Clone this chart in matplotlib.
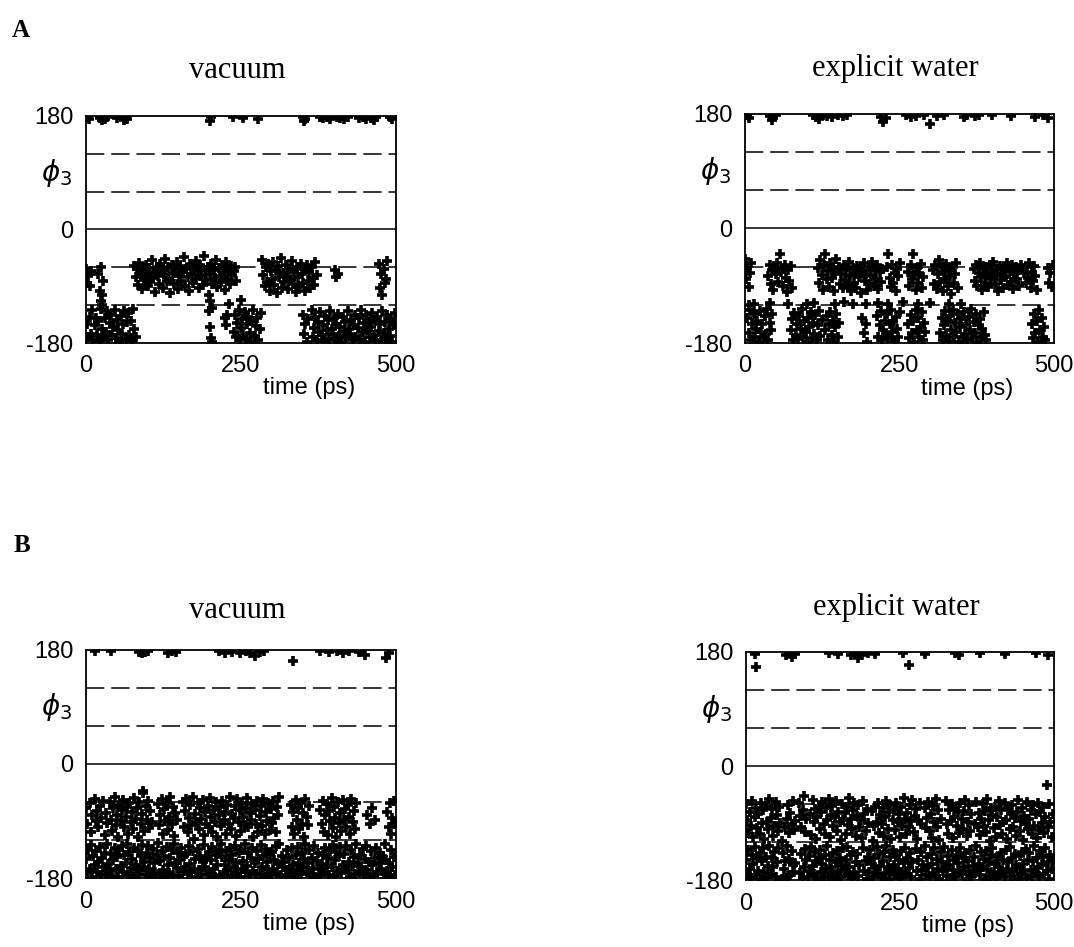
import numpy as np
import matplotlib
matplotlib.use('Agg')
import matplotlib.pyplot as plt

plt.rcParams['axes.unicode_minus'] = False

nan = float('nan')

# sampling times of the trajectories (ps), one frame every 2 ps
time = np.arange(0, 500, 2)

# ---------------- A, vacuum ----------------
a_vac_mid = [
    -62, -85, -74, -90, -66, nan, nan, nan, nan, nan,
    -70, -98, -60, -104, -82, nan, nan, nan, nan, nan,
    nan, nan, nan, nan, nan, nan, nan, nan, nan, nan,
    nan, nan, nan, nan, nan, nan, nan, nan, nan, -58,
    -75, -62, -88, -53, -70, -95, -66, -80, -57, -72,
    -90, -61, -84, -49, -77, -68, -99, -59, -73, -86,
    -55, -64, -92, -71, -47, -82, -60, -78, -101, -56,
    -69, -87, -63, -52, -94, -74, -58, -81, -67, -44,
    -89, -62, -76, -97, -54, -71, -85, -60, -79, -50,
    -66, -93, -57, -73, -88, -42, -64, -80, -59, -104,
    -70, -55, -86, -65, -77, -48, -91, -61, -74, -83,
    -57, -68, -96, -52, -79, -63, -87, -58, -72, -66,
    -60, -81, nan, nan, nan, nan, nan, nan, nan, nan,
    nan, nan, nan, nan, nan, nan, nan, nan, nan, nan,
    nan, nan, -48, -72, -90, -60, -83, -55, -97, -66,
    -78, -52, -88, -64, -101, -58, -75, -45, -92, -69,
    -84, -57, -73, -95, -62, -80, -50, -87, -67, -99,
    -59, -76, -91, -54, -70, -85, -63, -98, -56, -81,
    -68, -93, -60, -77, -88, -52, -72, nan, nan, nan,
    nan, nan, nan, nan, nan, nan, nan, nan, nan, nan,
    nan, -65, -76, -70, nan, nan, nan, nan, nan, nan,
    nan, nan, nan, nan, nan, nan, nan, nan, nan, nan,
    nan, nan, nan, nan, nan, nan, nan, nan, nan, nan,
    nan, nan, nan, nan, nan, nan, -55, -92, -70, -104,
    -62, -85, -78, -50, nan, nan, nan, nan, nan, nan,
]
a_vac_low = [
    nan, -150, -170, -138, -165, -128, -175, -152, -140, -168,
    -145, -177, -126, -158, -171, -140, -163, -130, -176, -149,
    -135, -168, -155, -128, -172, -143, -160, -178, -137, -166,
    -150, -129, -174, -146, -132, -168, -145, -177, -126, -158,
    -171, nan, nan, nan, nan, nan, nan, nan, nan, nan,
    nan, nan, nan, nan, nan, nan, nan, nan, nan, nan,
    nan, nan, nan, nan, nan, nan, nan, nan, nan, nan,
    nan, nan, nan, nan, nan, nan, nan, nan, nan, nan,
    nan, nan, nan, nan, nan, nan, nan, nan, nan, nan,
    nan, nan, nan, nan, nan, nan, nan, nan, nan, -130,
    -155, -172, -178, nan, nan, nan, nan, nan, nan, nan,
    nan, nan, -140, -152, -136, nan, nan, nan, nan, -162,
    -135, -170, -148, -128, -176, -156, -142, -167, -131, -174,
    -150, -138, -164, -178, -145, -127, -169, -153, -140, -175,
    -158, -132, nan, nan, nan, nan, nan, nan, nan, nan,
    nan, nan, nan, nan, nan, nan, nan, nan, nan, nan,
    nan, nan, nan, nan, nan, nan, nan, nan, nan, nan,
    nan, nan, nan, nan, nan, -135, -165, -150, -178, -142,
    nan, nan, -128, -170, -156, -139, -175, -146, -162, -131,
    -168, -152, -177, -137, -160, -144, -173, -129, -158, -166,
    -141, -176, -150, -134, -169, -155, -179, -138, -162, -147,
    -172, -130, -158, -165, -143, -176, -151, -136, -170, -157,
    -140, -174, -127, -163, -149, -178, -135, -160, -146, -171,
    -155, -132, -168, -144, -177, -139, -161, -150, -175, -129,
    -164, -147, -173, -136, -158, -169, -142, -178, -151, -133,
]
a_vac_extra_t = [2, 5, 22, 26, 30, 34, 50, 62, 64, 66, 200, 202, 237, 253, 277,
                 350, 352, 354, 377, 382, 388, 394, 405, 410, 416, 422, 440, 446,
                 452, 460, 464, 468, 490, 494, 24, 26, 200, 203, 230, 250]
a_vac_extra_phi = [178, 176, 177, 173, 176, 178, 177, 174, 178, 176, 172, 178, 178,
                   177, 176, 178, 172, 175, 178, 177, 178, 176, 178, 177, 176, 178,
                   177, 178, 176, 177, 174, 178, 178, 176, -113, -120, -113, -125,
                   -118, -112]

# ---------------- A, explicit water ----------------
a_wat_mid = [
    -48, -80, -62, -92, -70, -55, nan, nan, nan, nan,
    nan, nan, nan, nan, nan, nan, nan, nan, nan, -75,
    -58, -88, -66, -97, -60, -72, -54, -84, -40, -68,
    -63, -91, -57, -78, -100, -65, -82, -59, -94, nan,
    nan, nan, nan, nan, nan, nan, nan, nan, nan, nan,
    nan, nan, nan, nan, nan, nan, nan, nan, nan, -62,
    -85, -50, -73, -96, -58, -40, -80, -67, -92, -55,
    -78, -63, -99, -70, -48, nan, -60, -88, -72, -94,
    -57, -81, -66, -90, -53, -75, -98, -62, -85, -70,
    -93, -59, -77, -64, -101, -68, -55, -83, -72, -96,
    -61, -87, -74, -52, -91, -66, -80, -58, -95, -69,
    -84, -63, nan, nan, nan, -60, -40, -78, -92, -57,
    -86, -70, -98, -64, -75, -55, nan, nan, nan, nan,
    nan, nan, -68, -90, -58, -80, -40, -73, -97, -62,
    -85, -70, -56, -93, -77, nan, nan, nan, nan, nan,
    nan, nan, -66, -88, -58, -95, -72, -50, -84, -61,
    -99, -69, -79, -56, -90, -64, -75, -103, -60, -86,
    -71, -54, -94, nan, nan, nan, nan, nan, nan, nan,
    nan, nan, nan, nan, nan, -63, -82, -58, -90, -70,
    -55, -77, -96, -64, -85, -60, -73, -92, -57, -80,
    -68, -52, -88, -74, -63, -98, -59, -81, -70, -93,
    -62, -76, -55, -89, -67, -84, -57, -95, -72, -60,
    -80, -66, -91, -58, nan, nan, -70, -86, -61, -78,
    -54, -93, -68, -82, -59, -74, -97, nan, nan, nan,
    nan, nan, nan, nan, nan, -62, -85, -70, -92, -58,
]
a_wat_low = [
    nan, nan, -140, -165, -128, -176, -150, -135, -170, -158,
    -145, -178, -130, -162, -150, -172, -138, -166, -127, -175,
    -148, -160, -134, nan, nan, nan, nan, nan, nan, nan,
    nan, nan, nan, nan, nan, nan, nan, -160, -142, -176,
    -133, -168, -150, -174, -138, -158, -127, -170, -145, -163,
    -178, -140, -155, -131, -172, -148, -166, -136, -176, -152,
    -129, -169, -144, nan, nan, -160, -138, -175, -150, -132,
    -167, -145, -178, -155, -135, -170, -148, nan, nan, nan,
    nan, nan, nan, nan, nan, nan, nan, nan, nan, nan,
    nan, nan, nan, nan, nan, -140, -165, nan, -150, -178,
    nan, nan, nan, nan, nan, nan, nan, -138, -170, -152,
    -130, -176, -160, -145, -168, -135, -172, -150, -128, -163,
    -147, -177, -139, -158, -170, -132, nan, nan, nan, nan,
    nan, nan, -150, -172, -136, -165, -145, -178, -128, -160,
    -140, -170, -155, -132, -175, -148, -162, nan, nan, nan,
    nan, nan, nan, nan, nan, nan, nan, nan, -165, -140,
    -175, -152, -130, -168, -145, -177, -138, -160, -128, -171,
    -148, -163, -135, -178, -155, -142, -170, -131, -166, -150,
    -176, -139, -160, -127, -172, -147, -165, -134, -178, -152,
    -143, -170, -158, -131, -168, -176, nan, nan, nan, nan,
    nan, nan, nan, nan, nan, nan, nan, nan, nan, nan,
    nan, nan, nan, nan, nan, nan, nan, nan, nan, nan,
    nan, nan, nan, nan, nan, nan, nan, nan, nan, nan,
    nan, nan, -150, -172, -135, -165, -145, -178, -128, -160,
    -140, -170, -155, -176, nan, nan, nan, nan, nan, nan,
]
a_wat_extra_t = [4, 6, 40, 44, 46, 50, 110, 115, 120, 126, 132, 140, 150, 158, 165,
                 220, 224, 228, 260, 268, 276, 290, 300, 310, 322, 355, 360, 372,
                 378, 400, 430, 470, 482, 490,
                 6, 14, 40, 70, 100, 112, 145, 160, 175, 196, 215, 232, 256, 280,
                 300, 330, 350]
a_wat_extra_phi = [178, 174, 177, 170, 176, 178, 178, 176, 172, 178, 177, 175, 178,
                   177, 178, 176, 168, 174, 178, 176, 177, 178, 165, 177, 178, 176,
                   178, 177, 178, 178, 177, 176, 178, 174,
                   -120, -118, -117, -118, -119, -117, -118, -116, -119, -118, -117,
                   -118, -116, -118, -117, -119, -118]

# ---------------- B, vacuum ----------------
b_vac_mid = [
    -70, -95, nan, -62, -108, -80, nan, -55, -90, -74,
    -100, -66, -85, nan, -58, -112, -77, -93, nan, -60,
    -88, -105, -70, -52, -96, -81, -115, -64, -90, -73,
    -57, -99, -84, -68, -110, -62, -92, -76, -103, -54,
    -87, -70, -116, -60, -95, -79, -45, -106, -66, -89,
    -58, -101, -74, -92, nan, nan, nan, nan, -63, -97,
    -80, -55, -110, -71, -90, -61, -104, -83, -52, -94,
    -68, -114, -77, -88, nan, nan, nan, nan, -60, -99,
    -74, -56, -108, -85, -65, -96, -52, -118, -79, -91,
    -62, -103, -70, -87, -57, -112, -76, -94, -66, -100,
    -53, -84, -107, -72, -92, -60, -115, -81, -68, -98,
    -58, -89, -75, -110, -64, -95, -52, -102, -79, -86,
    -67, -113, -56, -91, -73, -105, -61, -84, -97, -70,
    -54, -100, -78, -88, -63, -116, -72, -94, -58, -107,
    -82, -66, -98, -55, -111, -76, -90, -62, -104, -71,
    -93, -59, -86, -108, -68, -80, -52, nan, nan, nan,
    nan, nan, nan, nan, nan, -64, -99, -75, -110, -57,
    -88, -70, -103, -61, -94, -78, -115, -55, -84, -97,
    -66, nan, nan, nan, nan, nan, nan, nan, nan, -72,
    -95, -58, -107, -80, -63, -112, -74, -90, -53, -101,
    -68, -86, -116, -60, -93, -77, -105, -57, -89, -71,
    -99, -64, -83, -110, -55, -92, -74, -102, -61, nan,
    nan, nan, nan, nan, nan, nan, nan, -80, nan, -95,
    nan, -70, nan, -88, nan, nan, nan, nan, nan, nan,
    nan, nan, nan, -75, -100, -62, -110, -85, -58, -95,
]
b_vac_low = [
    -150, -172, -135, -165, -128, -178, -145, -160, -138, -170,
    -155, -131, -176, -148, -163, -140, -174, -127, -158, -168,
    -142, -177, -152, -133, -166, -147, -179, -136, -161, -129,
    -171, -144, -157, -126, -175, -139, -164, -150, -178, -132,
    -159, -168, -137, -173, -146, -128, -162, -154, -176, -141,
    -130, -166, -149, -178, -134, -157, -170, -143, -125, -174,
    -153, -138, -167, -145, -179, -131, -160, -172, -148, -136,
    -175, -127, -156, -164, -140, -177, -151, -133, -169, -146,
    -162, -142, -174, -129, -158, -170, -137, -165, -150, -178,
    -134, -167, -145, -176, -155, -128, -163, -148, -173, -139,
    -170, -152, -131, -166, -179, -143, -159, -136, -175, -126,
    -147, -174, -160, -138, -168, -151, -133, -177, -144, -163,
    -129, -156, -172, -141, -178, -135, -165, -153, -127, -170,
    -161, -140, -176, -149, -132, -169, -157, -174, -137, -150,
    -173, -128, -162, -146, -179, -134, -155, -168, -142, -176,
    -139, -166, -151, -130, -172, -158, -126, -175, -145, -163,
    -154, -177, -136, -168, -148, -171, -132, -160, -179, -143,
    -167, -131, -157, -174, -140, -162, -150, -127, -170, -156,
    -135, -173, -148, -164, -129, -178, -153, -141, -166, -176,
    -158, -144, -171, -133, -160, -149, -175, -137, -163, -128,
    -177, -152, -139, -169, -146, -131, -172, -159, -142, -165,
    -130, -168, -155, -178, -136, -161, -147, -174, -126, -157,
    -170, -143, -163, -134, -176, -150, -129, -167, -154, -179,
    -138, -160, -175, -148, -132, -171, -157, -140, -165, -145,
    -173, -127, -152, -169, -156, -178, -135, -162, -147, -176,
]
b_vac_extra_t = [15, 40, 85, 90, 95, 100, 132, 138, 145, 215, 225, 235, 248, 258,
                 265, 272, 280, 287, 334, 378, 392, 405, 415, 425, 440, 450, 484,
                 488, 92]
b_vac_extra_phi = [178, 178, 177, 175, 177, 178, 176, 178, 177, 178, 176, 177, 175,
                   178, 176, 170, 177, 178, 162, 178, 177, 178, 176, 178, 177, 172,
                   168, 176, -42]

# ---------------- B, explicit water ----------------
b_wat_mid = [
    -60, -85, -105, -72, -95, -55, -112, -80, -66, -98,
    -75, -108, -58, -90, -70, -115, -63, -88, -100, -52,
    -82, -68, -110, -94, -57, -77, -103, -65, -90, -118,
    nan, nan, -97, -84, -62, -106, -74, -92, -56, -101,
    -87, nan, nan, -59, -79, -96, -70, -48, -104, -83,
    nan, nan, -76, -109, -54, -88, -68, -116, -81, -64,
    -99, -73, -57, -91, -107, -67, -85, -52, -112, -78,
    -63, -95, -80, -55, -102, -72, -89, -117, -60, -86,
    -74, -108, -65, -93, -50, -83, -100, -70, -58, -111,
    -79, -62, -97, -86, -114, -56, -76, -103, -68, -90,
    nan, nan, -71, -118, -95, -64, -88, -59, -106, -77,
    -92, -67, -110, -81, -55, -99, -73, -62, -115, -85,
    -70, -101, -58, -89, -76, -112, -64, -94, -50, -83,
    -107, -74, -96, -61, -87, -53, -104, -79, -68, -116,
    -86, -59, -91, nan, nan, -66, -98, -82, -57, -103,
    -75, -113, -63, -89, -52, -96, -70, -117, -84, nan,
    nan, nan, -55, -92, -108, -69, -87, -60, -114, -80,
    -65, -94, -73, -105, -58, -83, -99, -71, -54, -111,
    -88, -62, -102, -76, nan, nan, -91, -57, -97, -74,
    -109, -83, -60, -95, -71, -104, -52, -86, -118, -66,
    -78, -98, -64, -112, -81, -55, -93, -70, -107, -89,
    -59, -85, -115, -68, -100, -75, -61, -96, -82, -110,
    -72, -54, -103, -87, -66, -117, -79, -92, -57, -99,
    -84, -69, -108, -62, -94, -76, -113, -58, -101, -73,
    -90, -65, -106, -80, -30, -97, -60, -88, -112, -75,
]
b_wat_low = [
    -148, -170, -133, -162, -177, -140, -155, -128, -172, -145,
    -165, -137, -178, -150, -130, -168, -143, -175, -158, -126,
    -171, -146, -160, -135, -176, -152, -129, nan, nan, -179,
    -138, -163, -150, -127, -174, -147, -172, -134, -157, -168,
    -153, nan, nan, nan, -169, -139, -177, -160, -131, -148,
    -175, -142, -165, -128, -158, -171, -136, -150, -178, -145,
    -132, -167, -154, -176, -140, -162, -127, -173, -149, -160,
    -170, -137, -179, -151, -134, -166, -145, -175, -156, -130,
    -163, -148, -128, -172, -159, -141, -177, -135, -168, -152,
    -139, -174, -157, nan, nan, -130, -165, -150, -178, -143,
    -167, -133, -155, -176, -146, -161, -128, -171, -139, -158,
    -175, -150, -136, -169, -127, -160, -179, -144, -165, -132,
    -156, -172, -141, -163, -149, -177, -134, -168, -153, -129,
    -170, -145, -161, -138, -176, -152, nan, nan, -131, -166,
    -148, -178, -135, -164, -157, -127, -172, -143, -160, -175,
    -139, -155, -169, -130, -174, -147, -162, -178, -136, -151,
    -166, -128, -158, -173, -142, -156, -177, -133, -164, -149,
    -176, -140, -153, -167, -129, -171, -146, -160, -137, -179,
    -150, -165, -132, -175, -158, -143, -169, -127, -162, -154,
    -172, -136, -160, -147, -178, -134, -163, -151, -174, -141,
    -130, -168, -155, -177, -144, -159, -171, -137, -165, -149,
    -176, -133, -162, -152, -128, -174, -146, -167, -139, -157,
    -161, -178, -142, -170, -135, -155, -166, -131, -177, -148,
    -138, -164, -173, -150, -127, -169, -145, -160, -175, -134,
    -157, -143, -171, -129, -166, -152, -178, -140, -163, -147,
]
b_wat_extra_t = [15, 16, 65, 70, 75, 80, 135, 150, 170, 178, 182, 188, 198, 210,
                 255, 264, 290, 340, 345, 380, 420, 470, 490]
b_wat_extra_phi = [177, 156, 176, 178, 172, 177, 178, 177, 175, 178, 170, 176, 178,
                   177, 178, 160, 177, 178, 176, 178, 177, 178, 176]

panel_titles = ['vacuum', 'explicit water', 'vacuum', 'explicit water']
y_ticks = [-180, 0, 180]
x_ticks = [0, 250, 500]
guide_dashed = [120, 60, -60, -120]

fig = plt.figure(figsize=(10.74, 9.47), dpi=100)
W, H = 1074.0, 947.0

# axes boxes in pixels: left, top, right, bottom
boxes = [(86, 116, 396, 343), (745, 114, 1054, 343),
         (86, 650, 396, 878), (746, 652, 1054, 880)]
title_base = [78, 76, 618, 615]
panels = [(a_vac_mid, a_vac_low, a_vac_extra_t, a_vac_extra_phi),
          (a_wat_mid, a_wat_low, a_wat_extra_t, a_wat_extra_phi),
          (b_vac_mid, b_vac_low, b_vac_extra_t, b_vac_extra_phi),
          (b_wat_mid, b_wat_low, b_wat_extra_t, b_wat_extra_phi)]

tick_font = dict(family='Liberation Sans', size=17)
mk = dict(ls='none', marker='+', ms=7, mew=2.6, color='black')

for k, (box, data) in enumerate(zip(boxes, panels)):
    l, t, r, b = box
    ax = fig.add_axes([l / W, 1 - b / H, (r - l) / W, (b - t) / H])
    mid, low, ext_t, ext_phi = data
    ax.plot(time, mid, **mk)
    ax.plot(time, low, **mk)
    ax.plot(ext_t, ext_phi, **mk)

    for yv in guide_dashed:
        ax.axhline(yv, color='black', lw=1.1, dashes=(12, 4.5))
    ax.axhline(0, color='black', lw=1.1)

    ax.set_xlim(0, 500)
    ax.set_ylim(-180, 180)
    ax.set_xticks(x_ticks)
    ax.set_yticks(y_ticks)
    ax.tick_params(length=0, pad=9)
    for lab in ax.get_xticklabels() + ax.get_yticklabels():
        lab.set_fontfamily('Liberation Sans')
        lab.set_fontsize(17)
    for sp in ax.spines.values():
        sp.set_linewidth(1.3)

    ax.text(-0.095, 0.75, r'$\phi_3$', transform=ax.transAxes, ha='center',
            va='center', fontsize=20, family='DejaVu Sans')
    ax.text(0.72, -0.2, 'time (ps)', transform=ax.transAxes, ha='center',
            va='center', **tick_font)

    cx = (l + r) / 2 - 4
    fig.text(cx / W, 1 - title_base[k] / H, panel_titles[k], ha='center',
             va='baseline', family='Liberation Serif', fontsize=22)

fig.text(12 / W, 1 - 37 / H, 'A', family='Liberation Serif', weight='bold',
         fontsize=18, va='baseline')
fig.text(14 / W, 1 - 552 / H, 'B', family='Liberation Serif', weight='bold',
         fontsize=18, va='baseline')

fig.savefig('out.png', dpi=100)
